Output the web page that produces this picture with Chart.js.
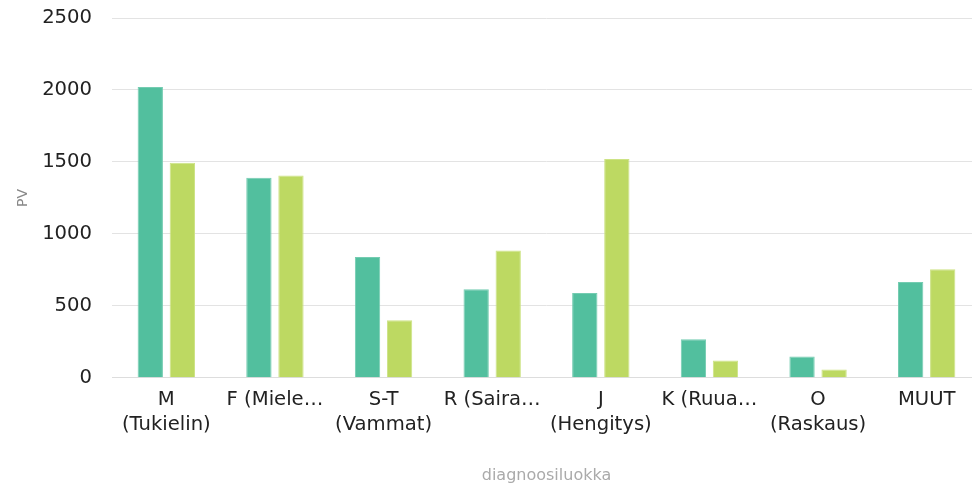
<!DOCTYPE html>
<html>
<head>
<meta charset="utf-8">
<script src="https://cdn.jsdelivr.net/npm/chart.js@4"></script>
<style>
  html,body{margin:0;padding:0;background:#fff;overflow:hidden;}
  #wrap{width:972px;height:485px;position:relative;overflow:hidden;}
  #inner{width:981px;height:485px;position:relative;}
</style>
</head>
<body>
<div id="wrap"><div id="inner"><canvas id="chart"></canvas></div></div>
<script>
/* data */
var categories = [
  ['M','(Tukielin)'],
  'F (Miele\u2026',
  ['S-T','(Vammat)'],
  'R (Saira\u2026',
  ['J','(Hengitys)'],
  'K (Ruua\u2026',
  ['O','(Raskaus)'],
  'MUUT'
];
var seriesA = [2020, 1390, 840, 615, 590, 268, 148, 665];
var seriesB = [1495, 1405, 400, 885, 1520, 120, 58, 755];
var yTicks = [0, 500, 1000, 1500, 2000, 2500];

var ctx = document.getElementById('chart');
new Chart(ctx, {
  type:'bar',
  data:{
    labels:categories,
    datasets:[
      {
        label:'A',
        data:seriesA,
        backgroundColor:'#52bf9e',
        borderColor:'#74ccb1',
        borderWidth:1
      },
      {
        label:'B',
        data:seriesB,
        backgroundColor:'#bdd962',
        borderColor:'#cde385',
        borderWidth:1
      }
    ]
  },
  options:{
    responsive:true,
    maintainAspectRatio:false,
    animation:false,
    layout:{padding:{left:0,right:0,top:0,bottom:0}},
    datasets:{bar:{categoryPercentage:0.59,barPercentage:0.79}},
    plugins:{legend:{display:false},tooltip:{enabled:false}},
    scales:{
      x:{
        grid:{display:false,drawTicks:false},
        border:{display:true,color:'#dddddd'},
        ticks:{color:'#222',font:{family:'DejaVu Sans',size:19.6,lineHeight:1.25},padding:10,maxRotation:0,autoSkip:false},
        title:{display:true,text:'diagnoosiluokka',color:'#aaaaaa',font:{family:'DejaVu Sans',size:16},padding:{top:19,bottom:0}}
      },
      y:{
        min:0,max:2500,
        afterBuildTicks:function(axis){axis.ticks = yTicks.map(function(v){return {value:v};});},
        afterFit:function(axis){axis.width = 112; axis.paddingTop = 18;},
        grid:{color:'#e3e3e3',drawTicks:false},
        border:{display:false},
        ticks:{color:'#222',font:{family:'DejaVu Sans',size:19.6},padding:20,callback:function(v){return String(v);}},
        title:{display:true,text:'PV',color:'#888888',font:{family:'DejaVu Sans',size:14},padding:{top:15,bottom:11}}
      }
    }
  }
});
</script>
</body>
</html>
